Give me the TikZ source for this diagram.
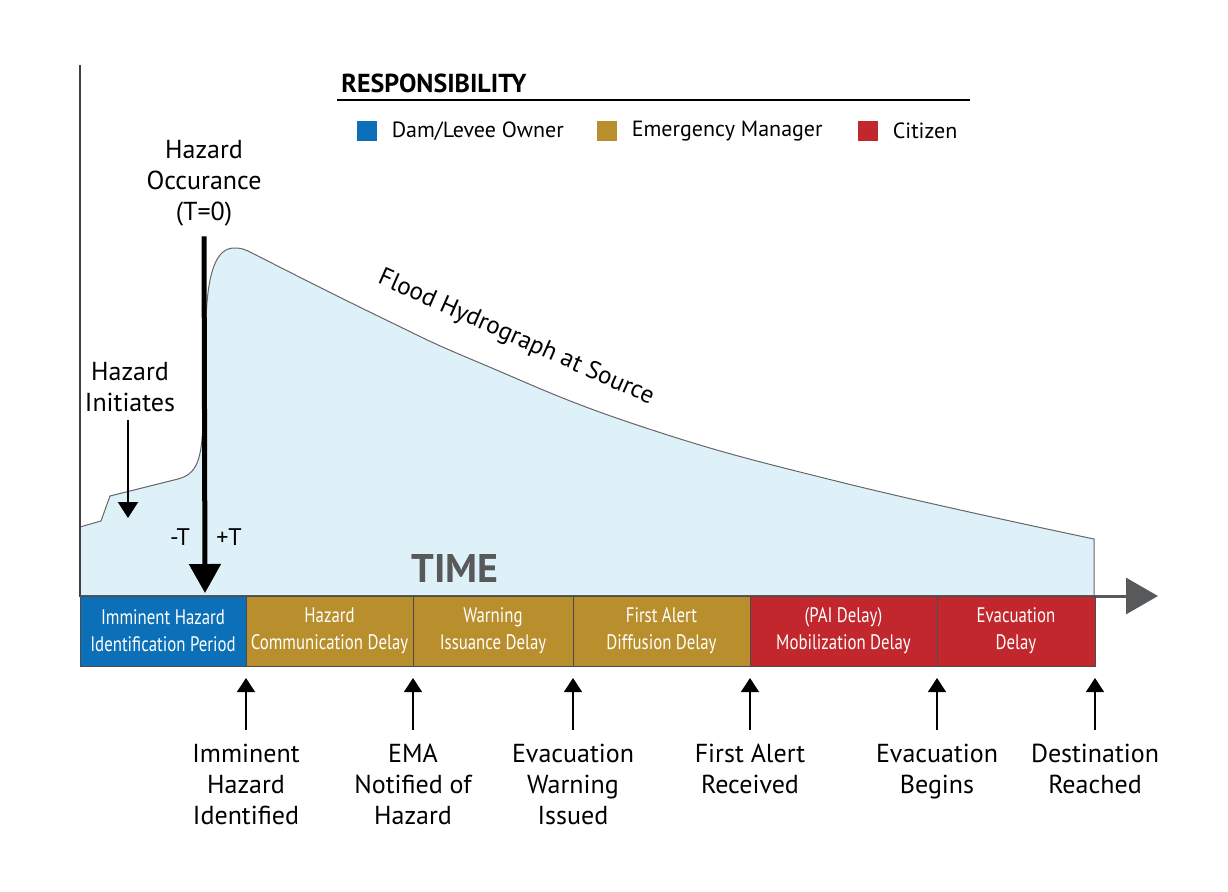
\documentclass[tikz,border=0pt]{standalone}
\usepackage{fontspec}
\setmainfont{PT Sans}
\newfontfamily\condfont{PT Sans}[FakeStretch=0.8]
\usepackage{tikz}
\usetikzlibrary{arrows.meta,positioning}
\definecolor{ownerblue}{HTML}{0B70B8}
\definecolor{managergold}{HTML}{B98F2D}
\definecolor{citizenred}{HTML}{C1272D}
\definecolor{floodblue}{HTML}{DFF1F8}
\definecolor{axisgray}{HTML}{58595B}
\tikzstyle{hydro}=[fill=floodblue,draw=gray!80!black,line width=0.5pt]
\tikzstyle{segbox}=[rectangle,draw=black!70,line width=0.5pt,minimum height=35pt,inner sep=0pt,outer sep=0pt,align=center,text=white,font=\condfont\fontsize{10.5}{13.5}\selectfont]
\tikzstyle{legendbox}=[rectangle,minimum size=10pt,inner sep=0pt]
\tikzstyle{legendtext}=[right=7pt,inner sep=0pt,font=\fontsize{11}{13}\selectfont]
\tikzstyle{eventtext}=[align=center,inner sep=0pt,font=\fontsize{13}{15.5}\selectfont]
\tikzstyle{milestone}=[line width=0.7pt,-{Triangle[length=7pt,width=9pt]}]

\begin{document}
\begin{tikzpicture}[x=0.5pt,y=-0.5pt]
		\useasboundingbox (0,0) rectangle (1228,891);
		% hydrograph
		\filldraw[hydro] (80,596) -- (80,527) -- (101,521) -- (110,496) -- (178,479)
			.. controls (196,474) and (202,462) .. (203,420) -- (206,320)
			.. controls (208,262) and (220,247) .. (236,248)
			.. controls (242,248) and (246,250) .. (252,253)
			-- plot[smooth,tension=0.75] coordinates {(252,253) (380,317) (480,363) (640,426) (840,482) (1094,539)}
			-- (1094,596) -- cycle;
		\node[rotate=-24,font=\fontsize{12.5}{14}\selectfont] (floodlabel) at (516,338) {Flood Hydrograph at Source};
		% axes
		\draw[black!75,line width=1pt] (80,65) -- (80,597);
		\coordinate (origin) at (80,596);
		\coordinate (timeend) at (1158,596);
		\draw[axisgray,line width=1.5pt,-{Triangle[length=16pt,width=18pt]}] (origin) -- (timeend);
		\node[text=axisgray,font=\bfseries\fontsize{20}{24}\selectfont] (timelabel) at (455,568) {TIME};
		% responsibility legend
		\node[anchor=west,inner sep=0pt,font=\bfseries\fontsize{13}{15}\selectfont] (resp) at (341,83) {RESPONSIBILITY};
		\draw[line width=1pt] (337,100) -- (970,100);
		\node[legendbox,fill=ownerblue] (legowner) at (367,131) {};
		\node[legendtext] at (legowner.east) {Dam/Levee Owner};
		\node[legendbox,fill=managergold] (legmanager) at (607,131) {};
		\node[legendtext] at (legmanager.east) {Emergency Manager};
		\node[legendbox,fill=citizenred] (legcitizen) at (868,131) {};
		\node[legendtext] at (legcitizen.east) {Citizen};
		% hazard occurance and initiation
		\node[eventtext] (occurance) at (204,183) {Hazard\\Occurance\\(T=0)};
		\coordinate (tzero) at (205,593);
		\draw[line width=2.5pt,shorten <=5pt,-{Triangle[length=14.5pt,width=15.5pt]}] (occurance.south) -- (tzero);
		\node[eventtext] (initiates) at (130,387) {Hazard\\Initiates};
		\coordinate (initpoint) at (128,518);
		\draw[line width=1pt,shorten <=4pt,-{Triangle[length=8pt,width=10pt]}] (initiates.south -| initpoint) -- (initpoint);
		\node[font=\fontsize{12}{14}\selectfont] (minust) at (180,537) {-T};
		\node[font=\fontsize{12}{14}\selectfont] (plust) at (229,537) {+T};
		% delay bar
		\node[segbox,fill=ownerblue,minimum width=83pt,anchor=north west] (s1) at (80,596) {Imminent Hazard\\Identification Period};
		\node[segbox,fill=managergold,minimum width=83.5pt,right=0pt of s1] (s2) {Hazard\\Communication Delay};
		\node[segbox,fill=managergold,minimum width=80pt,right=0pt of s2] (s3) {Warning\\Issuance Delay};
		\node[segbox,fill=managergold,minimum width=88.5pt,right=0pt of s3] (s4) {First Alert\\Diffusion Delay};
		\node[segbox,fill=citizenred,minimum width=93.5pt,right=0pt of s4] (s5) {(PAI Delay)\\Mobilization Delay};
		\node[segbox,fill=citizenred,minimum width=79pt,right=0pt of s5] (s6) {Evacuation\\Delay};
		% milestones
		\node[eventtext,anchor=north] (m1) at (246,744) {Imminent\\Hazard\\Identified};
		\node[eventtext,anchor=north] (m2) at (413,744) {EMA\\Notified of\\Hazard};
		\node[eventtext,anchor=north] (m3) at (573,744) {Evacuation\\Warning\\Issued};
		\node[eventtext,anchor=north] (m4) at (750,744) {First Alert\\Received};
		\node[eventtext,anchor=north] (m5) at (937,744) {Evacuation\\Begins};
		\node[eventtext,anchor=north] (m6) at (1095,744) {Destination\\Reached};
		\foreach \m/\s in {m1/s1,m2/s2,m3/s3,m4/s4,m5/s5,m6/s6}
			\draw[milestone,shorten <=7pt,shorten >=6pt] (\m.north) -- (\s.south east);
	\end{tikzpicture}
\end{document}
